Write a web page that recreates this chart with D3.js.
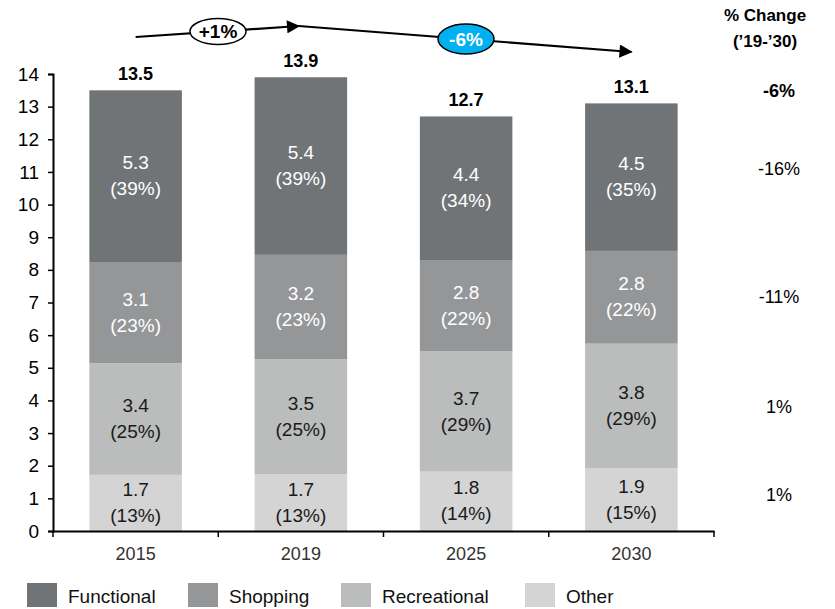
<!DOCTYPE html>
<html>
<head>
<meta charset="utf-8">
<script src="https://cdn.jsdelivr.net/npm/d3@7"></script>
<style>
  body { margin: 0; background: #fff; }
  svg text { font-family: "Liberation Sans", Arial, sans-serif; }
</style>
</head>
<body>
<div id="chart"></div>
<script>
// Data
var years = ["2015", "2019", "2025", "2030"];
var seriesNames = ["Other", "Recreational", "Shopping", "Functional"]; // bottom to top
var other = [1.72, 1.74, 1.82, 1.92];
var recreational = [3.42, 3.52, 3.68, 3.82];
var shopping = [3.08, 3.2, 2.8, 2.84];
var functional = [5.28, 5.44, 4.4, 4.52];
var otherShare = ["13%", "13%", "14%", "15%"];
var recreationalShare = ["25%", "25%", "29%", "29%"];
var shoppingShare = ["23%", "23%", "22%", "22%"];
var functionalShare = ["39%", "39%", "34%", "35%"];
var changeTotal = "-6%";
var changeBySeries = ["1%", "1%", "-11%", "-16%"]; // Other, Recreational, Shopping, Functional
var arrowLabels = ["+1%", "-6%"];
var yTicks = d3.range(0, 15);
var legendOrder = ["Functional", "Shopping", "Recreational", "Other"];

var colors = {
    Functional: "#717477",
    Shopping: "#959698",
    Recreational: "#bbbcbc",
    Other: "#d4d4d4"
};
var labelColors = {
    Functional: "#ffffff",
    Shopping: "#ffffff",
    Recreational: "#1a1a1a",
    Other: "#1a1a1a"
};

var width = 835, height = 609;
var margin = { left: 53, right: 121, top: 74, bottom: 78 };

var svg = d3.select("#chart").append("svg")
    .attr("width", width)
    .attr("height", height);

var x = d3.scaleBand()
    .domain(years)
    .range([margin.left, width - margin.right])
    .paddingInner(0.44)
    .paddingOuter(0.22);

var y = d3.scaleLinear()
    .domain([0, 14])
    .range([height - margin.bottom, margin.top]);

// build rows for stacking
var rows = years.map(function(yr, i) {
    return {
        year: yr,
        Other: other[i],
        Recreational: recreational[i],
        Shopping: shopping[i],
        Functional: functional[i]
    };
});
var shares = {
    Other: otherShare,
    Recreational: recreationalShare,
    Shopping: shoppingShare,
    Functional: functionalShare
};

var stack = d3.stack().keys(seriesNames);
var layers = stack(rows);

// bars
var layerG = svg.append("g").selectAll("g")
    .data(layers)
    .join("g")
        .attr("fill", function(d) { return colors[d.key]; });

layerG.selectAll("rect")
    .data(function(d) { return d; })
    .join("rect")
        .attr("x", function(d) { return x(d.data.year); })
        .attr("y", function(d) { return y(d[1]); })
        .attr("width", x.bandwidth())
        .attr("height", function(d) { return y(d[0]) - y(d[1]); });

// segment labels
layers.forEach(function(layer) {
    var key = layer.key;
    var g = svg.append("g")
        .attr("fill", labelColors[key])
        .attr("font-size", 19)
        .attr("text-anchor", "middle");
    layer.forEach(function(d, i) {
        var cx = x(d.data.year) + x.bandwidth() / 2;
        var cy = (y(d[0]) + y(d[1])) / 2;
        g.append("text")
            .attr("x", cx)
            .attr("y", cy - 7)
            .text(d.data[key].toFixed(1));
        g.append("text")
            .attr("x", cx)
            .attr("y", cy + 19)
            .text("(" + shares[key][i] + ")");
    });
});

// totals
var totals = rows.map(function(r) {
    return d3.sum(seriesNames, function(k) { return r[k]; });
});
svg.append("g")
    .attr("font-size", 18)
    .attr("font-weight", "bold")
    .attr("text-anchor", "middle")
    .selectAll("text")
    .data(years)
    .join("text")
        .attr("x", function(d) { return x(d) + x.bandwidth() / 2; })
        .attr("y", function(d, i) { return y(totals[i]) - 10; })
        .text(function(d, i) { return totals[i].toFixed(1); });

// axes
var yAxis = svg.append("g")
    .attr("transform", "translate(" + margin.left + ",0)")
    .call(d3.axisLeft(y).tickValues(yTicks).tickSize(5).tickPadding(9));
yAxis.select(".domain").attr("stroke", "#000").attr("stroke-width", 2);
yAxis.selectAll(".tick line").attr("stroke", "#000").attr("stroke-width", 1.5);
yAxis.selectAll(".tick text")
    .attr("font-size", 19)
    .attr("fill", "#000")
    .attr("font-family", "Liberation Sans, Arial, sans-serif");

var xAxis = svg.append("g")
    .attr("transform", "translate(0," + y(0) + ")")
    .call(d3.axisBottom(x).tickSize(0).tickPadding(16));
xAxis.select(".domain").attr("stroke", "#000").attr("stroke-width", 2);
xAxis.selectAll(".tick text")
    .attr("font-size", 18)
    .attr("fill", "#333")
    .attr("font-family", "Liberation Sans, Arial, sans-serif");
// band boundary ticks
var bounds = years.map(function(d) { return x(d) - x.step() * x.paddingInner() / 2; });
bounds.push(width - margin.right);
bounds[0] = margin.left;
xAxis.selectAll(".bound")
    .data(bounds)
    .join("line")
        .attr("class", "bound")
        .attr("x1", function(d) { return d; })
        .attr("x2", function(d) { return d; })
        .attr("y1", 0)
        .attr("y2", 6)
        .attr("stroke", "#000")
        .attr("stroke-width", 1.5);

// right column: % change
var rx = 779;
svg.append("text")
    .attr("x", rx - 14).attr("y", 21)
    .attr("text-anchor", "middle")
    .attr("font-size", 17).attr("font-weight", "bold")
    .text("% Change");
svg.append("text")
    .attr("x", rx - 14).attr("y", 47)
    .attr("text-anchor", "middle")
    .attr("font-size", 17).attr("font-weight", "bold")
    .text("(\u201919-\u201930)");

var last = years.length - 1;
svg.append("text")
    .attr("x", rx).attr("y", y(totals[last]) - 6)
    .attr("text-anchor", "middle")
    .attr("font-size", 18).attr("font-weight", "bold")
    .text(changeTotal);

var changeNudge = [-3, 3, 2, -6];
layers.forEach(function(layer, k) {
    var d = layer[last];
    svg.append("text")
        .attr("x", rx)
        .attr("y", (y(d[0]) + y(d[1])) / 2 + 4 + changeNudge[k])
        .attr("text-anchor", "middle")
        .attr("font-size", 18)
        .text(changeBySeries[k]);
});

// arrows on top
svg.append("defs").append("marker")
    .attr("id", "head")
    .attr("viewBox", "0 0 10 10")
    .attr("refX", 9).attr("refY", 5)
    .attr("markerWidth", 6.5).attr("markerHeight", 6)
    .attr("orient", "auto")
    .attr("markerUnits", "strokeWidth")
  .append("path")
    .attr("d", "M0,0 L10,5 L0,10 Z")
    .attr("fill", "#000");

var cxOf = function(yr) { return x(yr) + x.bandwidth() / 2; };
var arrows = [
    { from: [cxOf("2015"), 37], to: [cxOf("2019") - 2, 26], label: arrowLabels[0], fill: "#fff", text: "#000", ry: 13 },
    { from: [cxOf("2019") - 2, 26], to: [cxOf("2030"), 52], label: arrowLabels[1], fill: "#00b0f0", text: "#fff", ry: 15 }
];
arrows.forEach(function(a) {
    svg.append("line")
        .attr("x1", a.from[0]).attr("y1", a.from[1])
        .attr("x2", a.to[0]).attr("y2", a.to[1])
        .attr("stroke", "#000").attr("stroke-width", 2.2)
        .attr("marker-end", "url(#head)");
});
// ellipses on the arrows
var ell = [
    { cx: 218, a: arrows[0] },
    { cx: 466, a: arrows[1] }
];
ell.forEach(function(e) {
    var a = e.a;
    var t = (e.cx - a.from[0]) / (a.to[0] - a.from[0]);
    var cy = a.from[1] + t * (a.to[1] - a.from[1]);
    svg.append("ellipse")
        .attr("cx", e.cx).attr("cy", cy)
        .attr("rx", 28).attr("ry", a.ry)
        .attr("fill", a.fill)
        .attr("stroke", "#000").attr("stroke-width", 1.5);
    svg.append("text")
        .attr("x", e.cx).attr("y", cy + 7)
        .attr("text-anchor", "middle")
        .attr("font-size", 19).attr("font-weight", "bold")
        .attr("fill", a.text)
        .text(a.label);
});

// legend
var legendX = [27, 188, 341, 525];
var legend = svg.append("g")
    .selectAll("g")
    .data(legendOrder)
    .join("g")
        .attr("transform", function(d, i) { return "translate(" + legendX[i] + ",583)"; });
legend.append("rect")
    .attr("width", 30).attr("height", 24)
    .attr("fill", function(d) { return colors[d]; });
legend.append("text")
    .attr("x", 41).attr("y", 20)
    .attr("font-size", 19)
    .attr("fill", "#111")
    .text(function(d) { return d; });
</script>
</body>
</html>
